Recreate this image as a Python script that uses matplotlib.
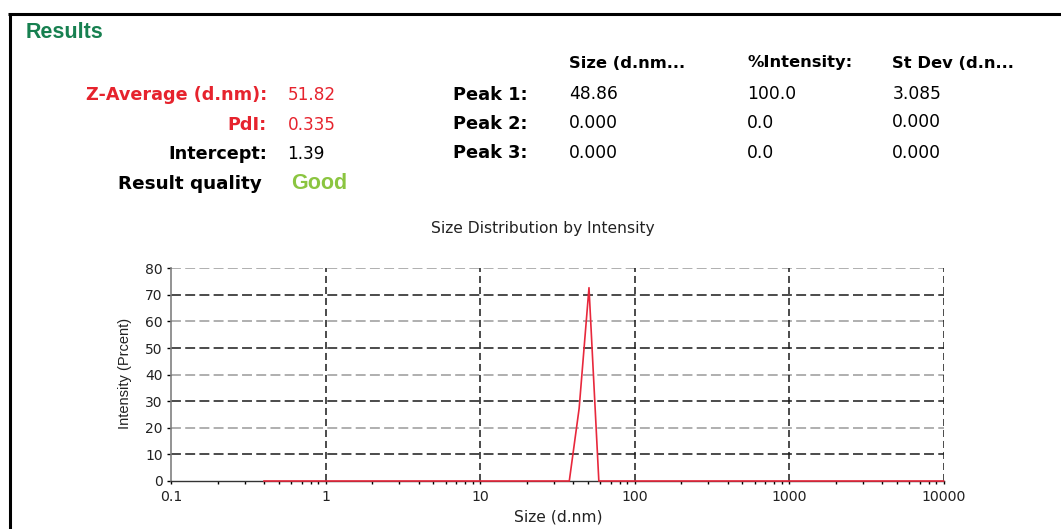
import matplotlib
matplotlib.use('Agg')
import matplotlib.pyplot as plt
from matplotlib.lines import Line2D
from matplotlib.ticker import LogLocator, NullFormatter

W, H = 1061, 529

RED = '#e6232d'
GREEN = '#178050'
LIGHT_GREEN = '#8bc540'

# size classes (d.nm) and intensity distribution (%)
sizes = [0.4, 0.4632, 0.5365, 0.6213, 0.7195, 0.8332, 0.9649, 1.117, 1.294, 1.499,
         1.736, 2.010, 2.328, 2.696, 3.122, 3.615, 4.187, 4.849, 5.615, 6.503,
         7.531, 8.721, 10.10, 11.70, 13.54, 15.69, 18.17, 21.04, 24.36, 28.21,
         32.67, 37.84, 43.82, 50.75, 58.77, 68.06, 78.82, 91.28, 105.7, 122.4,
         141.8, 164.2, 190.1, 220.2, 255.0, 295.3, 342.0, 396.1, 458.7, 531.2,
         615.1, 712.4, 825.0, 955.4, 1106, 1281, 1484, 1718, 1990, 2305,
         2669, 3091, 3580, 4145, 4801, 5560, 6439, 7456, 8635, 10000]
intensity = [0, 0, 0, 0, 0, 0, 0, 0, 0, 0,
             0, 0, 0, 0, 0, 0, 0, 0, 0, 0,
             0, 0, 0, 0, 0, 0, 0, 0, 0, 0,
             0, 0, 27.3, 72.7, 0, 0, 0, 0, 0, 0,
             0, 0, 0, 0, 0, 0, 0, 0, 0, 0,
             0, 0, 0, 0, 0, 0, 0, 0, 0, 0,
             0, 0, 0, 0, 0, 0, 0, 0, 0, 0]

x_ticks = [0.1, 1, 10, 100, 1000, 10000]
x_tick_labels = ['0.1', '1', '10', '100', '1000', '10000']
y_ticks = [0, 10, 20, 30, 40, 50, 60, 70, 80]

summary_labels = ['Z-Average (d.nm):', 'PdI:', 'Intercept:']
summary_values = ['51.82', '0.335', '1.39']
summary_colors = [RED, RED, 'black']
quality = 'Good'

peak_headers = ['Size (d.nm...', '%Intensity:', 'St Dev (d.n...']
peak_names = ['Peak 1:', 'Peak 2:', 'Peak 3:']
peak_size = ['48.86', '0.000', '0.000']
peak_intensity = ['100.0', '0.0', '0.0']
peak_stdev = ['3.085', '0.000', '0.000']

plt.rcParams['font.family'] = 'DejaVu Sans'

fig = plt.figure(figsize=(W / 100, H / 100), dpi=100)


def put(x, y, s, **kw):
    # x, y are pixels from the top-left corner, y is the baseline
    return fig.text(x / W, 1 - y / H, s, va='baseline', **kw)


# frame around the report
fig.add_artist(Line2D([9.5 / W, 9.5 / W], [1 - 13.5 / H, 0], color='black', lw=2.2,
                      solid_capstyle='butt', transform=fig.transFigure))
fig.add_artist(Line2D([8 / W, 1], [1 - 13.5 / H, 1 - 13.5 / H], color='black', lw=2.2,
                      solid_capstyle='butt', transform=fig.transFigure))

put(26, 38.5, 'Results', family='Liberation Sans', fontweight='bold', fontsize=15.5, color=GREEN)

# summary block
rows_y = [100, 129.5, 159.3]
for lab, val, col, y in zip(summary_labels, summary_values, summary_colors, rows_y):
    put(267, y, lab, ha='right', fontweight='bold', fontsize=12.7, color=col)
    put(287.5, y, val, fontsize=12.2, color=col)
put(262, 188.8, 'Result quality', ha='right', fontweight='bold', fontsize=13.2)
put(291, 189, quality, family='Liberation Sans', fontweight='bold', fontsize=15.5, color=LIGHT_GREEN)

# peak table
cols_x = [569.3, 747.3, 892.3]
for hdr, x in zip(peak_headers, cols_x):
    put(x, 67.5, hdr, fontweight='bold', fontsize=11.8)
peak_rows_y = [99.5, 128.8, 158.3]
for i, y in enumerate(peak_rows_y):
    put(452.7, y, peak_names[i], fontweight='bold', fontsize=12.8)
    put(cols_x[0], y - 0.7, peak_size[i], fontsize=12.3)
    put(cols_x[1], y - 0.7, peak_intensity[i], fontsize=12.3)
    put(cols_x[2], y - (2.3 if i == 1 else 0.7), peak_stdev[i], fontsize=12.3)

# distribution plot
put(542.7, 233.3, 'Size Distribution by Intensity', ha='center', fontsize=11.2, color='#222222')
put(558, 521.7, 'Size (d.nm)', ha='center', fontsize=11.2, color='#222222')
fig.text(125.5 / W, 1 - 373.5 / H, 'Intensity (Prcent)', rotation=90, ha='center', va='center',
         family='Liberation Sans', fontsize=10.5, color='#222222')

ax = fig.add_axes([171 / W, 48 / H, 772.5 / W, 212.7 / H])
ax.set_xscale('log')
ax.set_xlim(0.1, 10000)
ax.set_ylim(0, 80)

for v in y_ticks[1:]:
    ax.axhline(v, color='#1a1a1a' if v % 20 else '#9a9a9a', lw=1.1,
               ls=(0, (6.5, 2.8)), zorder=1)
for v in x_ticks[1:]:
    ax.axvline(v, color='#1a1a1a', lw=1.1, ls=(0, (4.6, 2.6)), zorder=1)

ax.plot(sizes, intensity, color='#e8283c', lw=1.2, zorder=5, clip_on=False)

for side in ['top', 'right']:
    ax.spines[side].set_visible(False)
ax.spines['left'].set_color('#808080')
ax.spines['left'].set_linewidth(1.2)
ax.spines['bottom'].set_color('#333333')
ax.spines['bottom'].set_linewidth(1.0)

ax.set_xticks(x_ticks, x_tick_labels)
ax.xaxis.set_minor_locator(LogLocator(base=10, subs=range(2, 10)))
ax.xaxis.set_minor_formatter(NullFormatter())
ax.set_yticks(y_ticks)
ax.tick_params(axis='x', which='major', length=2.5, width=1, pad=4, labelsize=10.2,
               labelcolor='#222222')
ax.tick_params(axis='x', which='minor', length=2, width=1)
ax.tick_params(axis='y', length=3, width=1, pad=3, labelsize=10, labelcolor='#222222')

fig.savefig('out.png', dpi=100)
